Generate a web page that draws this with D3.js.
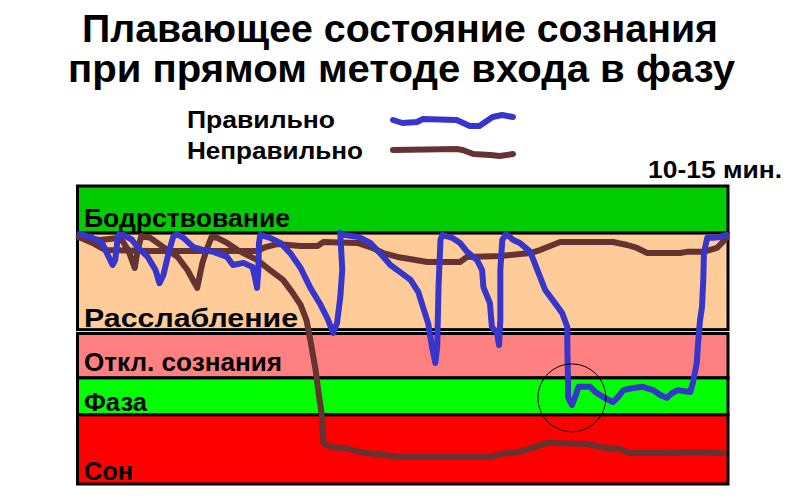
<!DOCTYPE html>
<html><head><meta charset="utf-8">
<script src="https://cdn.jsdelivr.net/npm/d3@7"></script>
<style>body{margin:0;background:#fff}svg{display:block}text{font-family:"Liberation Sans",Arial,sans-serif;font-weight:bold;fill:#000}</style>
</head><body><div id="chart"></div>
<script>
// ---- data ----
const titleLines = ["Плавающее состояние сознания", "при прямом методе входа в фазу"];
const legendNames = ["Правильно", "Неправильно"];
const durationLabel = "10-15 мин.";
// states (bands), depth in % of chart height from top
const bandNames = ["Бодрствование", "Расслабление", "Откл. сознания", "Фаза", "Сон"];
const bandTop = [0, 15.8, 49.5, 64.4, 76.8];
const bandBottom = [15.8, 48.2, 64.4, 76.8, 100];
// time in % of session, depth in % (0 = top)
const correctTime = [0.3,2.0,3.8,4.8,5.4,5.8,6.1,6.3,7.1,8.4,9.2,10.8,12.0,12.6,13.2,14.0,14.7,15.2,16.3,17.8,19.4,20.9,23.0,23.9,25.5,26.9,27.3,27.6,27.8,27.9,28.1,29.6,31.2,32.7,34.3,35.8,37.3,38.4,39.3,39.9,40.4,40.7,40.4,40.9,43.2,45.0,46.5,48.1,49.6,51.2,52.4,53.1,53.9,54.5,55.0,55.3,55.5,55.8,56.1,57.6,58.8,59.9,61.4,62.2,62.4,63.4,63.7,64.5,64.8,65.0,65.0,65.3,65.9,67.0,68.0,69.6,70.7,71.9,73.4,74.5,75.3,75.3,75.4,75.4,76.0,76.5,77.0,78.8,79.6,80.8,82.3,83.1,83.9,85.4,86.9,88.5,89.6,90.6,91.4,92.2,94.2,94.6,95.2,95.4,95.7,96.0,96.2,96.3,96.8,97.7,98.8,99.8];
const correctDepth = [16.1,17.1,19.1,23.8,26.5,24.8,19.1,16.4,16.4,18.1,20.5,23.8,28.2,32.6,29.9,22.5,17.1,16.1,17.4,20.5,21.5,22.1,23.8,26.5,25.8,27.2,30.9,34.2,28.2,19.1,16.4,17.4,19.1,22.5,27.5,34.2,39.6,44.3,49.3,46.0,37.2,28.2,15.8,16.4,17.1,19.1,22.5,26.5,28.9,31.5,35.6,40.6,46.0,54.0,59.4,54.0,33.9,18.1,16.4,17.4,19.1,22.1,24.8,28.2,33.9,39.3,47.3,49.3,53.4,45.0,28.2,18.1,16.1,18.1,19.1,22.1,28.2,34.9,39.3,42.6,47.3,54.0,65.1,70.8,73.5,70.8,67.4,67.4,69.1,70.8,72.5,70.8,68.5,67.8,67.4,68.5,70.1,71.1,69.5,68.5,69.1,66.1,59.4,52.7,45.0,40.6,31.5,22.5,17.4,17.4,17.1,16.4];
// wrong: stays in relaxation
const wrongTopTime = [0.2,2.3,4.3,11.2,18.9,27.6,28.9,30.7,34.3,36.9,37.8,43.0,45.0,47.0,49.2,53.8,58.8,59.9,65.0,69.6,71.1,74.2,82.3,84.5,86.0,87.6,92.6,93.7,96.2,98.3,99.8];
const wrongTopDepth = [17.1,19.1,21.5,21.8,21.8,21.8,20.5,19.5,20.1,20.1,18.8,19.1,20.5,22.5,23.8,25.5,25.5,23.8,23.5,22.5,21.5,18.8,18.8,19.8,20.8,22.5,22.5,22.1,22.1,20.8,17.4];
// wrong: falls asleep
const wrongSleepTime = [0.2,3.5,6.6,7.8,8.8,9.2,9.8,11.2,13.2,15.4,16.9,18.4,19.2,20.0,20.6,21.5,23.0,24.6,26.1,27.6,29.6,31.6,33.0,34.3,35.2,35.8,36.6,37.0,37.6,37.8,38.9,40.9,43.5,44.5,49.6,54.7,63.4,65.0,67.6,70.0,72.2,78.3,81.4,83.4,84.9,90.6,94.6,99.2];
const wrongSleepDepth = [17.1,18.1,17.4,21.5,27.5,22.1,16.8,17.4,20.5,23.8,28.2,34.2,25.8,20.5,17.1,17.4,19.1,21.5,23.2,24.8,28.2,31.5,35.6,39.9,45.0,51.7,61.7,68.5,77.5,86.2,87.6,87.9,89.3,89.6,90.9,90.9,90.9,89.9,89.3,87.9,86.2,86.6,87.9,88.3,89.6,89.6,89.3,89.6];
// phase entry marker
const markerTime = 76.0, markerDepth = 71.1;
// legend sample wiggles (relative units)
const legendCorrectX = [0,8,20,25,53,64,72,83,91,100];
const legendCorrectY = [5,8,7,4,5,11,11,2,0,2];
const legendWrongX = [0,53,58,67,81,89,100];
const legendWrongY = [4,3,4,8,9,10,8];

// ---- styles ----
const bandColors = ["#00cc00", "#ffcc99", "#ff8080", "#00ff00", "#ff0000"];
const blue = "#3636cc", brown = "#663333";

const W = 800, H = 500;
const svg = d3.select("#chart").append("svg").attr("width", W).attr("height", H);
const x = d3.scaleLinear().domain([0, 100]).range([77.5, 728]);
const y = d3.scaleLinear().domain([0, 100]).range([186, 484]);

// bands
const bands = bandNames.map((n, i) => ({ name: n, top: bandTop[i], bottom: bandBottom[i], color: bandColors[i] }));
svg.selectAll("rect.band").data(bands).join("rect").attr("class", "band")
  .attr("x", x(0)).attr("width", x(100) - x(0))
  .attr("y", d => y(d.top)).attr("height", d => y(d.bottom) - y(d.top))
  .attr("fill", d => d.color).attr("stroke", "#000").attr("stroke-width", 3);

// band labels
const labelW = [206, 214, 198, 63, 49];
const labelDy = [-6, -3, -7, -4, -4];
svg.selectAll("text.band").data(bands).join("text").attr("class", "band")
  .attr("x", 84).attr("y", (d, i) => y(d.bottom) + labelDy[i])
  .attr("font-size", 26).attr("textLength", (d, i) => labelW[i]).attr("lengthAdjust", "spacingAndGlyphs")
  .text(d => d.name);

// lines
const line = d3.line().x(d => x(d[0])).y(d => y(d[1])).curve(d3.curveLinear);
const zip = (a, b) => a.map((v, i) => [v, b[i]]);
const series = [
  { pts: zip(wrongTopTime, wrongTopDepth), color: brown },
  { pts: zip(wrongSleepTime, wrongSleepDepth), color: brown },
  { pts: zip(correctTime, correctDepth), color: blue }
];
svg.selectAll("path.series").data(series).join("path").attr("class", "series")
  .attr("d", d => line(d.pts)).attr("fill", "none").attr("stroke", d => d.color)
  .attr("stroke-width", 6).attr("stroke-linejoin", "round").attr("stroke-linecap", "round");

// marker circle
svg.append("circle").attr("cx", x(markerTime)).attr("cy", y(markerDepth)).attr("r", 34)
  .attr("fill", "none").attr("stroke", "#000").attr("stroke-width", 1);

// title
const titleX = [82, 68], titleW = [636, 667], titleY = [42, 82];
svg.selectAll("text.title").data(titleLines).join("text").attr("class", "title")
  .attr("x", (d, i) => titleX[i]).attr("y", (d, i) => titleY[i])
  .attr("font-size", 38).attr("textLength", (d, i) => titleW[i]).attr("lengthAdjust", "spacingAndGlyphs")
  .text(d => d);

// legend
const legY = [128, 159], legW = [148, 176];
svg.selectAll("text.leg").data(legendNames).join("text").attr("class", "leg")
  .attr("x", 187).attr("y", (d, i) => legY[i]).attr("font-size", 24)
  .attr("textLength", (d, i) => legW[i]).attr("lengthAdjust", "spacingAndGlyphs").text(d => d);
const lx = d3.scaleLinear().domain([0, 100]).range([393, 513]);
const legendLine = d3.line().x(d => lx(d[0])).y(d => d[1]);
svg.append("path").attr("d", legendLine(zip(legendCorrectX, legendCorrectY).map(p => [p[0], 115 + p[1]])))
  .attr("fill", "none").attr("stroke", blue).attr("stroke-width", 6).attr("stroke-linejoin", "round").attr("stroke-linecap", "round");
svg.append("path").attr("d", legendLine(zip(legendWrongX, legendWrongY).map(p => [p[0], 146 + p[1]])))
  .attr("fill", "none").attr("stroke", brown).attr("stroke-width", 6).attr("stroke-linejoin", "round").attr("stroke-linecap", "round");

// duration label
svg.append("text").attr("x", 648).attr("y", 178).attr("font-size", 24)
  .attr("textLength", 134).attr("lengthAdjust", "spacingAndGlyphs").text(durationLabel);
</script></body></html>
